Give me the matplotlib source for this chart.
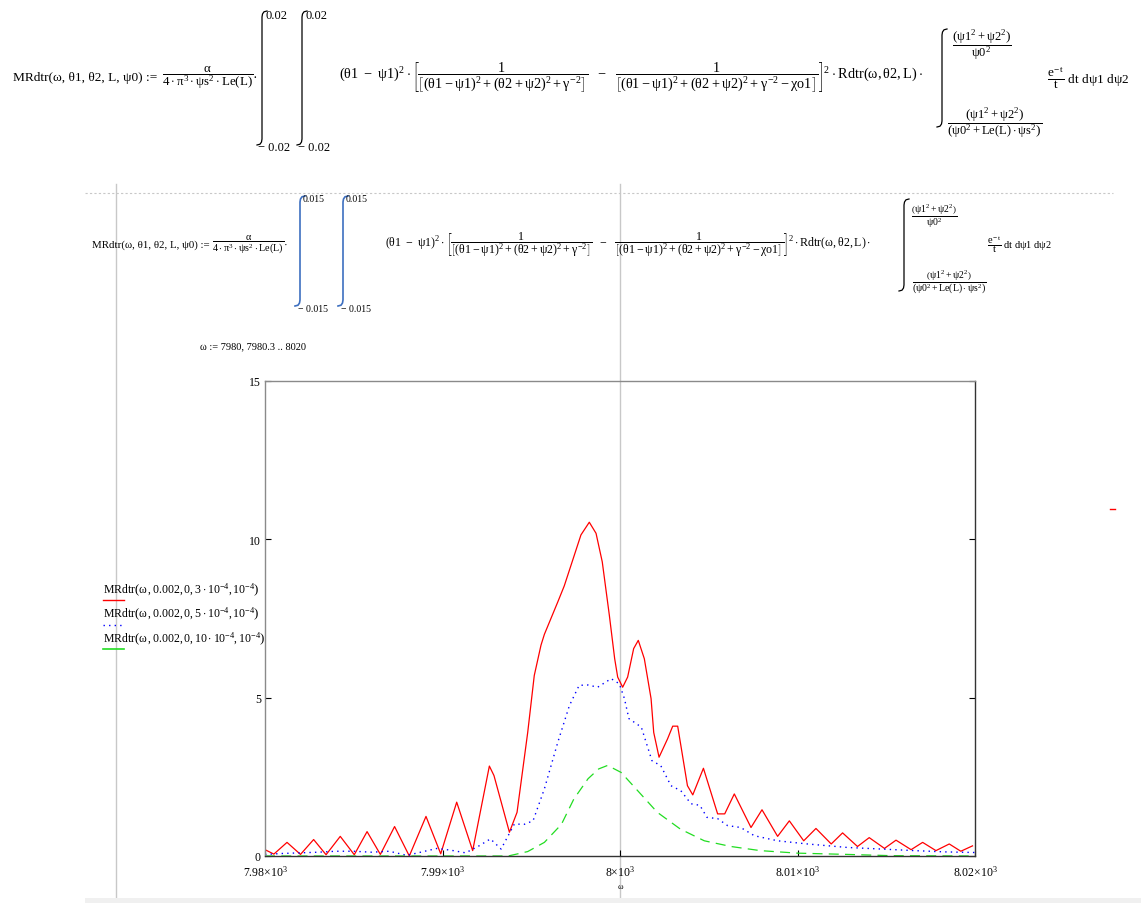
import numpy as np
import matplotlib
matplotlib.use("Agg")
import matplotlib.pyplot as plt
from matplotlib.lines import Line2D
from matplotlib.patches import Rectangle

plt.rcParams['font.family'] = ['Liberation Serif', 'DejaVu Serif']
plt.rcParams['mathtext.fontset'] = 'custom'
plt.rcParams['mathtext.rm'] = 'Liberation Serif'
plt.rcParams['mathtext.it'] = 'Liberation Serif'
plt.rcParams['mathtext.bf'] = 'Liberation Serif:bold'

# --- data ---
omega_red = [7980.0, 7980.5, 7981.24, 7982.0, 7982.74, 7983.44, 7984.24, 7985.03, 7985.75, 7986.5,
             7987.3, 7988.13, 7989.07, 7989.9, 7990.8, 7991.7, 7992.64, 7992.9, 7993.77, 7994.2,
             7994.8, 7995.17, 7995.55, 7995.74, 7996.5, 7996.86, 7997.8, 7998.27, 7998.65, 7999.0,
             7999.4, 7999.7, 7999.87, 8000.15, 8000.43, 8000.77, 8001.03, 8001.37, 8001.75, 8001.9,
             8002.2, 8002.68, 8002.97, 8003.25, 8003.8, 8004.1, 8004.7, 8005.5, 8005.9, 8006.44,
             8007.38, 8008.0, 8008.88, 8009.54, 8010.35, 8011.04, 8011.9, 8012.54, 8013.38, 8014.04,
             8014.9, 8015.55, 8016.4, 8017.05, 8017.8, 8018.55, 8019.2, 8019.86]
mr_red = [0.2, 0.06, 0.43, 0.05, 0.52, 0.04, 0.62, 0.04, 0.77, 0.05,
          0.93, 0.0, 1.25, 0.07, 1.70, 0.17, 2.84, 2.54, 0.75, 1.38,
          3.9, 5.7, 6.66, 7.0, 8.03, 8.53, 10.14, 10.54, 10.19, 9.29,
          7.6, 6.23, 5.65, 5.33, 5.65, 6.55, 6.81, 6.23, 4.97, 3.9,
          3.12, 3.7, 4.1, 4.1, 2.22, 1.93, 2.77, 1.33, 1.33, 1.96,
          0.9, 1.46, 0.62, 1.11, 0.48, 0.87, 0.38, 0.73, 0.3, 0.58,
          0.24, 0.5, 0.2, 0.43, 0.17, 0.38, 0.15, 0.32]

omega_blue = [7980, 7981, 7982, 7983, 7984, 7985, 7986, 7987, 7988, 7989,
              7989.7, 7990.5, 7991.3, 7992.0, 7992.7, 7993.3, 7994.05, 7994.6, 7995.1, 7995.74,
              7996.5, 7997.15, 7997.7, 7998.2, 7998.74, 7999.5, 7999.96, 8000.25, 8000.5, 8001.2,
              8001.8, 8002.3, 8002.87, 8003.43, 8004.0, 8004.5, 8004.9, 8005.5, 8006.06, 8006.8,
              8007.57, 8008.88, 8010.56, 8012.8, 8014.7, 8016.6, 8018.3, 8020]
mr_blue = [0.05, 0.08, 0.1, 0.12, 0.15, 0.15, 0.12, 0.15, 0.02, 0.15,
           0.24, 0.18, 0.1, 0.3, 0.54, 0.22, 1.01, 1.0, 1.11, 2.12,
           3.6, 4.75, 5.39, 5.4, 5.33, 5.6, 5.44, 4.97, 4.34, 4.07,
           3.01, 2.85, 2.22, 2.06, 1.65, 1.6, 1.22, 1.18, 0.96, 0.9,
           0.64, 0.48, 0.38, 0.27, 0.22, 0.17, 0.13, 0.11]

omega_green = [7980, 7985, 7990, 7993.7, 7994.8, 7995.74, 7996.7, 7997.4, 7998.2, 7998.8,
               7999.3, 8000.06, 8001.0, 8002.1, 8003.4, 8004.75, 8006.25, 8007.9, 8010.0, 8012.8,
               8015.3, 8020]
mr_green = [0, 0, 0, 0.0, 0.14, 0.43, 1.0, 1.8, 2.44, 2.75,
            2.86, 2.64, 2.06, 1.38, 0.85, 0.48, 0.3, 0.17, 0.09, 0.05,
            0.01, 0.0]

xticks = [7980, 7990, 8000, 8010, 8020]
xtick_labels = [r'$7.98{\times}10^{3}$', r'$7.99{\times}10^{3}$', r'$8{\times}10^{3}$',
                r'$8.01{\times}10^{3}$', r'$8.02{\times}10^{3}$']
yticks = [0, 5, 10, 15]
legend_labels = [r'MRdtr$\left(\omega\,,0.002,0,3\cdot10^{-4},10^{-4}\right)$',
                 r'MRdtr$\left(\omega\,,0.002,0,5\cdot10^{-4},10^{-4}\right)$',
                 r'MRdtr$\left(\omega\,,0.002,0,10\cdot10^{-4},10^{-4}\right)$']

W, H = 1141, 904
fig = plt.figure(figsize=(W / 100, H / 100), dpi=100)
fig.patch.set_facecolor('white')


def T(x, y, s, size=10, ha='left', va='center', **kw):
    fig.text(x / W, 1 - y / H, s, fontsize=size, ha=ha, va=va, **kw)


def L(xs, ys, **kw):
    fig.add_artist(Line2D([x / W for x in xs], [1 - y / H for y in ys], **kw))


def integral(x, y0, y1, color='black', lw=0.9):
    # tall Mathcad style integral sign
    L([x + 5, x + 2, x + 0.5, x, x, x - 0.5, x - 2, x - 5],
      [y0, y0 + 0.8, y0 + 3, y0 + 6, y1 - 6, y1 - 3, y1 - 0.8, y1], color=color, lw=lw)


BRACKET = (r'$(\theta1\ -\ \psi1)^{2}\cdot\left[\dfrac{1}{\left[(\theta1-\psi1)^{2}+(\theta2+\psi2)^{2}+\gamma^{-2}\right]}'
           r'\ \ -\ \ \dfrac{1}{\left[(\theta1-\psi1)^{2}+(\theta2+\psi2)^{2}+\gamma^{-2}-\chi o1\right]}\right]^{2}'
           r'\cdot Rdtr(\omega,\theta2,L)\cdot$')
ALPHA = r'$\dfrac{\alpha}{4\cdot\pi^{3}\cdot\psi s^{2}\cdot Le(L)}$'
UPPER = r'$\dfrac{\left(\psi1^{2}+\psi2^{2}\right)}{\psi0^{2}}$'
LOWER = r'$\dfrac{\left(\psi1^{2}+\psi2^{2}\right)}{\left(\psi0^{2}+Le(L)\cdot\psi s^{2}\right)}$'
ETAIL = r'$\dfrac{e^{-\,t}}{t}\ dt\ d\psi1\ d\psi2$'

# page decorations
L([116, 116], [185, 900], color='#c8c8c8', lw=1, zorder=-1)
L([620, 620], [185, 900], color='#c8c8c8', lw=1, zorder=-1)
L([85, 1113], [194, 194], color='#c8c8c8', lw=0.8, ls=(0, (2, 2)))
fig.add_artist(Rectangle((85 / W, 0), 1 - 85 / W, 5 / H, transform=fig.transFigure,
                         color='#f0f0f0', lw=0))
L([1110, 1115], [510, 510], color='red', lw=1)

# ---- first formula ----
T(13, 78, 'MRdtr(ω, θ1, θ2, L, ψ0) :=', 9.6)
T(208, 78, ALPHA, 9.3, ha='center')
T(253, 78, '·', 10)
integral(262, 12, 146)
integral(302, 12, 146)
T(265, 16, '0.02', 9)
T(305, 16, '0.02', 9)
T(258, 148, '− 0.02', 9)
T(298, 148, '− 0.02', 9)
T(339, 78, BRACKET, 10.3)
integral(942, 30, 128)
T(982, 46, UPPER, 9, ha='center')
T(995, 124, LOWER, 9, ha='center')
T(1047, 78, ETAIL, 9.5)

# ---- second formula ----
T(92, 245, 'MRdtr(ω, θ1, θ2, L, ψ0) :=', 7.8)
T(248, 245, ALPHA, 7.3, ha='center')
T(284, 245, '·', 8)
bl = '#3d6fc0'
integral(300, 197, 307, color=bl, lw=1.2)
integral(343, 197, 307, color=bl, lw=1.2)
T(303, 199, '0.015', 7)
T(346, 199, '0.015', 7)
T(298, 309, '− 0.015', 7)
T(341, 309, '− 0.015', 7)
T(385, 245, BRACKET, 8.6)
integral(904, 200, 292)
T(934, 216, UPPER, 7, ha='center')
T(949, 282, LOWER, 7, ha='center')
T(987, 245, ETAIL, 7.5)

T(200, 347, 'ω := 7980, 7980.3 .. 8020', 7.5)

# ---- plot ----
ax = fig.add_axes([265 / W, 1 - 857 / H, (975 - 265) / W, (857 - 382) / H])
ax.patch.set_alpha(0)
ax.plot(omega_red, mr_red, color='red', lw=0.9)
ax.plot(omega_blue, mr_blue, color='blue', lw=1.0, ls=(0, (1, 3)))
ax.plot(omega_green, mr_green, color='#22dd22', lw=0.9, ls=(0, (8, 5)))
ax.set_xlim(7980, 8020)
ax.set_ylim(0, 15)
ax.set_xticks(xticks)
ax.set_xticklabels(xtick_labels)
ax.set_yticks(yticks)
ax.set_yticklabels([str(v) for v in yticks])
ax.tick_params(direction='in', length=4, labelsize=8.5, right=True, left=True, pad=3)
ax.tick_params(axis='x', pad=6)
for side in ['left', 'top']:
    ax.spines[side].set_color('#8a8a8a')
for side in ['right', 'bottom']:
    ax.spines[side].set_color('#333333')
for sp in ax.spines.values():
    sp.set_linewidth(1.0)
ax.set_xlabel('ω', fontsize=6, labelpad=2)

# legend drawn Mathcad style (name underlined by line sample)
styles = [dict(color='red', lw=1.0), dict(color='blue', lw=1.0, ls=(0, (1, 3))),
          dict(color='#22dd22', lw=1.2)]
for i, (lab, st) in enumerate(zip(legend_labels, styles)):
    y = 590 + i * 24.5
    T(103, y, lab, 8.5)
    L([103, 124], [y + 11, y + 11], **st)

fig.savefig('out.png', dpi=100)
